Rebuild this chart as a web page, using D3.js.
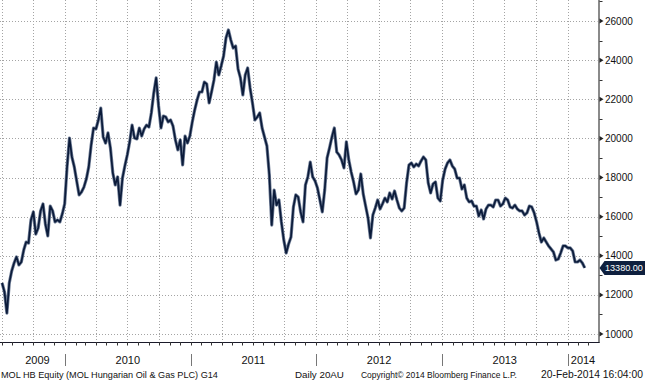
<!DOCTYPE html>
<html><head><meta charset="utf-8">
<script src="https://cdn.jsdelivr.net/npm/d3@7"></script>
<style>body{margin:0;background:#fff}svg{display:block}text{font-family:"Liberation Sans",Arial,sans-serif}</style>
</head><body><svg id="c" width="645" height="380"></svg>
<script>
// Weekly closes (HUF), MOL HB Equity, first week 2009-07-02, last 2014-02-20
const firstWeek = "2009-07-02";
const weeklyClose = [
12610,12150,11070,12610,13220,13630,13940,13530,13680,14290,14700,14650,15830,16240,15110,15420,16290,16650,15620,15010,
16540,16290,15730,15830,15730,16130,16650,18540,20020,19050,18540,17820,17110,17260,17510,17920,18540,19660,20530,20480,
20940,21550,20070,19760,20280,19510,18230,17620,18030,16590,17970,18590,19150,19820,20680,20020,19970,20530,20120,20480,
20680,20580,21300,22320,23090,21660,20530,21140,21090,20840,20940,20630,19920,19410,19920,18640,20120,19760,20120,20840,
21450,21960,22370,22370,22880,22780,21810,22370,22980,23900,23240,23700,24210,25130,25540,25030,24620,24720,23550,23090,
22220,23240,23600,22580,21810,20940,21090,21300,20530,20070,19610,18130,15570,17360,16590,16850,15730,14810,14140,14600,
14960,16490,17110,17000,16240,15730,17620,18030,18790,18030,17820,17460,16850,16240,17360,19000,19510,20070,20530,19300,
19150,18900,18490,19820,18900,18280,17770,17160,17360,18180,17160,16540,15930,14910,16080,16440,16850,16390,16650,16950,
16750,17210,16900,17310,16850,16440,16290,16440,17720,18640,18740,18540,18690,18590,18840,19050,18900,17720,17210,17670,
17770,16950,16800,17870,18430,18740,18900,18590,18430,17970,17970,17410,17620,16950,16750,16800,16540,16540,16030,16340,
15880,16390,16590,16590,16490,16850,16850,16540,16650,16950,16850,16490,16440,16590,16390,16290,16290,16080,16190,16540,
16490,16190,15730,15160,14700,14910,14700,14500,14350,14190,13780,13830,14140,14500,14500,14400,14400,14240,13680,13680,
13780,13630,13380
];
const yTicks = [10000,12000,14000,16000,18000,20000,22000,24000,26000];
const yMinorTicks = [11000,13000,15000,17000,19000,21000,23000,25000,27000];
const yearLabels = ["2009","2010","2011","2012","2013","2014"];
const lastValueLabel = "13380.00";
const footerLeft = "MOL HB Equity (MOL Hungarian Oil & Gas PLC) G14";
const footerMid = "Daily 20AU";
const footerCopy = "Copyright\u00A9 2014 Bloomberg Finance L.P.";
const footerDate = "20-Feb-2014 16:04:00";

const parse = d3.timeParse("%Y-%m-%d");
const start = parse(firstWeek);
const data = weeklyClose.map((v,i)=>({date:d3.timeDay.offset(start,7*i), value:v}));

// shrink font so text fits its slot
function fit(sel, base, maxW){
  sel.each(function(d){
    const w = typeof maxW==="function"?maxW(d):maxW;
    this.setAttribute("font-size",base);
    const len = this.getComputedTextLength();
    if(len>w) this.setAttribute("font-size",(base*w/len).toFixed(2));
  });
}

const svg = d3.select("#c");
const W = 598.5, axisY = 342;
const x = d3.scaleTime().domain([new Date(2009,5,26), new Date(2014,3,1)]).range([0,W]);
const y = d3.scaleLinear().domain([10000,26000]).range([334,21]);

// grid
const grid = svg.append("g").attr("class","grid");
grid.selectAll("line.hg").data(yTicks).join("line").attr("class","hg")
 .attr("x1",0).attr("x2",W-1).attr("y1",d=>Math.round(y(d))+0.5).attr("y2",d=>Math.round(y(d))+0.5);
const quarters = x.ticks(d3.timeMonth.every(3)).filter(d=>x(d)>1 && x(d)<W-1);
grid.selectAll("line.vg").data(quarters).join("line").attr("class","vg")
 .attr("x1",d=>Math.round(x(d))+0.5).attr("x2",d=>Math.round(x(d))+0.5).attr("y1",0).attr("y2",axisY);
grid.selectAll("line").attr("stroke","#a4a4a4").attr("stroke-width",1).attr("stroke-dasharray","1 2");

// line
const line = d3.line().x(d=>x(d.date)).y(d=>y(d.value));
svg.append("path").datum(data).attr("d",line).attr("fill","none")
 .attr("stroke","#6e7c95").attr("stroke-width",3.2).attr("stroke-linejoin","round");
svg.append("path").datum(data).attr("d",line).attr("fill","none")
 .attr("stroke","#0b1b3a").attr("stroke-width",1.7).attr("stroke-linejoin","round");

// right axis
svg.append("line").attr("x1",W+0.5).attr("x2",W+0.5).attr("y1",0).attr("y2",axisY+1)
 .attr("stroke","#8a8a8a").attr("stroke-width",2);
svg.selectAll("line.mt").data(yMinorTicks).join("line").attr("class","mt")
 .attr("x1",W+1).attr("x2",W+4).attr("y1",d=>Math.round(y(d))+0.5).attr("y2",d=>Math.round(y(d))+0.5)
 .attr("stroke","#333");
svg.selectAll("path.Mt").data(yTicks).join("path").attr("class","Mt")
 .attr("d",d=>{const yy=y(d);return `M${W+1},${yy-2.5}L${W+5},${yy}L${W+1},${yy+2.5}Z`;})
 .attr("fill","#222");
svg.selectAll("text.yl").data(yTicks).join("text").attr("class","yl")
 .attr("x",605).attr("y",d=>y(d)+3.5).attr("font-size",10).attr("fill","#111")
 .text(d=>d);

// last value tag
const lv = weeklyClose[weeklyClose.length-1];
const ly = y(lv);
svg.append("path").attr("d",`M${W+1},${ly}L${W+6},${ly-7}L645,${ly-7}L645,${ly+7}L${W+6},${ly+7}Z`).attr("fill","#0e1f3e");
svg.append("text").attr("x",605).attr("y",ly+3.5).attr("fill","#fff").text(lastValueLabel)
 .call(fit,10,38);

// bottom axis
svg.append("line").attr("x1",0).attr("x2",W+1).attr("y1",axisY+0.5).attr("y2",axisY+0.5).attr("stroke","#1a1a2a");
const months = x.ticks(d3.timeMonth.every(1)).filter(d=>x(d)>0 && x(d)<W);
svg.selectAll("line.bt").data(months).join("line").attr("class","bt")
 .attr("x1",d=>Math.round(x(d))+0.5).attr("x2",d=>Math.round(x(d))+0.5).attr("y1",axisY).attr("y2",axisY+3.5)
 .attr("stroke","#333");
const yearStarts = [2010,2011,2012,2013,2014].map(yr=>new Date(yr,0,1));
svg.selectAll("line.ys").data(yearStarts).join("line").attr("class","ys")
 .attr("x1",d=>Math.round(x(d))+0.5).attr("x2",d=>Math.round(x(d))+0.5).attr("y1",354).attr("y2",366)
 .attr("stroke","#777");
const bounds = [x.domain()[0], ...yearStarts, x.domain()[1]];
svg.selectAll("text.yrl").data(yearLabels).join("text").attr("class","yrl")
 .attr("x",(d,i)=>{const a=x(bounds[i]),b=x(bounds[i+1]);return i===0?(a+b)/2+5:(a+b)/2;})
 .attr("y",364).attr("text-anchor","middle").attr("font-size",11).attr("fill","#111").text(d=>d);

// footer
const ft = [[footerLeft,1,217],[footerMid,295,49],[footerCopy,361,156],[footerDate,541,102]];
svg.selectAll("text.ft").data(ft).join("text").attr("class","ft")
 .attr("x",d=>d[1]).attr("y",377.5).attr("fill","#111").text(d=>d[0])
 .call(fit,11,d=>d[2]);
</script></body></html>
